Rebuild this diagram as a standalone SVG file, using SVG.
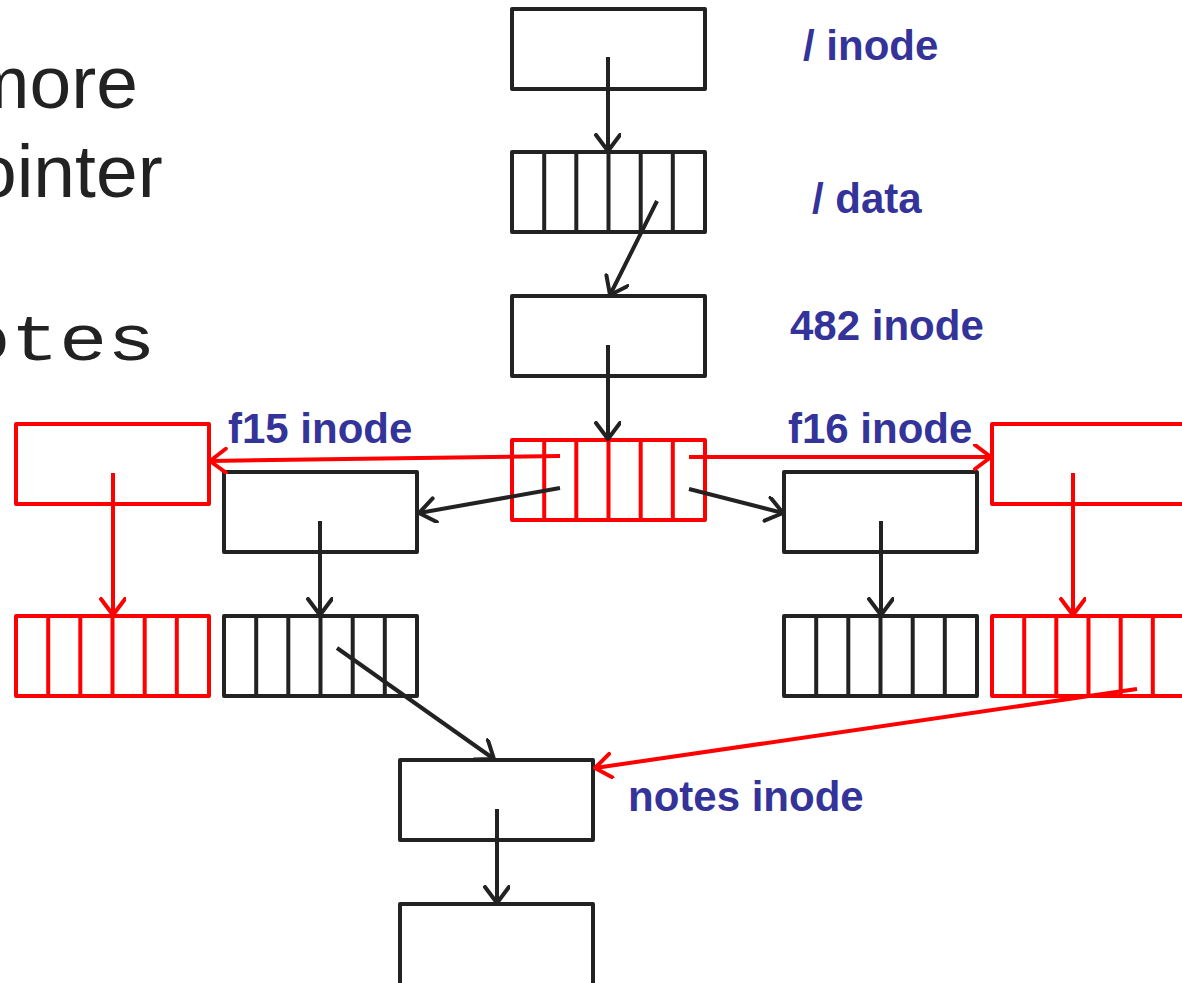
<svg xmlns="http://www.w3.org/2000/svg" width="1182" height="983" viewBox="0 0 1182 983">
  <style>
    .box { fill: #fff; stroke: #222; stroke-width: 4; stroke-linejoin: round; }
    .rbox { fill: #fff; stroke: #ff0000; stroke-width: 4; stroke-linejoin: round; }
    .div { stroke: #222; stroke-width: 4; }
    .rdiv { stroke: #ff0000; stroke-width: 4; }
    .edge { fill: none; stroke: #222; stroke-width: 4; marker-end: url(#arrowK); }
    .redge { fill: none; stroke: #ff0000; stroke-width: 4; marker-end: url(#arrowR); }
    .lbl { font-family: "Liberation Sans", Arial, sans-serif; font-weight: bold; font-size: 42px; fill: #333399; }
    .big { font-family: "Liberation Sans", Arial, sans-serif; font-size: 75px; fill: #222; }
    .mono { font-family: "Liberation Mono", "Courier New", monospace; font-size: 64px; fill: #222; }
  </style>
  <defs>
    <marker id="arrowK" markerUnits="userSpaceOnUse" markerWidth="24" markerHeight="28" refX="18" refY="13" orient="auto">
      <path d="M2,1 L18,13 L2,25" fill="none" stroke="#222" stroke-width="4" stroke-linecap="round" stroke-linejoin="round"/>
    </marker>
    <marker id="arrowR" markerUnits="userSpaceOnUse" markerWidth="24" markerHeight="28" refX="18" refY="13" orient="auto">
      <path d="M2,1 L18,13 L2,25" fill="none" stroke="#ff0000" stroke-width="4" stroke-linecap="round" stroke-linejoin="round"/>
    </marker>
    <!-- six-slot directory data block -->
    <g id="slotsK">
      <rect class="box" x="0" y="0" width="193" height="80"/>
      <line class="div" x1="32.2" y1="0" x2="32.2" y2="80"/>
      <line class="div" x1="64.3" y1="0" x2="64.3" y2="80"/>
      <line class="div" x1="96.5" y1="0" x2="96.5" y2="80"/>
      <line class="div" x1="128.7" y1="0" x2="128.7" y2="80"/>
      <line class="div" x1="160.8" y1="0" x2="160.8" y2="80"/>
    </g>
    <g id="slotsR">
      <rect class="rbox" x="0" y="0" width="193" height="80"/>
      <line class="rdiv" x1="32.2" y1="0" x2="32.2" y2="80"/>
      <line class="rdiv" x1="64.3" y1="0" x2="64.3" y2="80"/>
      <line class="rdiv" x1="96.5" y1="0" x2="96.5" y2="80"/>
      <line class="rdiv" x1="128.7" y1="0" x2="128.7" y2="80"/>
      <line class="rdiv" x1="160.8" y1="0" x2="160.8" y2="80"/>
    </g>
  </defs>

  <rect width="1182" height="983" fill="#fff"/>

  <!-- slide body text, running off the left edge -->
  <text class="big" x="-33" y="108">more</text>
  <text class="big" x="-25" y="197">ointer</text>
  <text class="mono" transform="scale(1.26,1)" x="-30" y="360">otes</text>

  <!-- nodes -->
  <g id="root-inode"><rect class="box" x="512" y="9" width="193" height="80"/></g>
  <g id="root-data"><use href="#slotsK" x="512" y="152"/></g>
  <g id="inode-482"><rect class="box" x="512" y="296" width="193" height="80"/></g>
  <g id="data-482"><use href="#slotsR" x="512" y="440"/></g>

  <g id="f15-inode-red"><rect class="rbox" x="16" y="424" width="193" height="80"/></g>
  <g id="f15-data-red"><use href="#slotsR" x="16" y="616"/></g>
  <g id="f15-inode"><rect class="box" x="224" y="472" width="193" height="80"/></g>
  <g id="f15-data"><use href="#slotsK" x="224" y="616"/></g>

  <g id="f16-inode"><rect class="box" x="784" y="472" width="193" height="80"/></g>
  <g id="f16-data"><use href="#slotsK" x="784" y="616"/></g>
  <g id="f16-inode-red"><rect class="rbox" x="992" y="424" width="193" height="80"/></g>
  <g id="f16-data-red"><use href="#slotsR" x="992" y="616"/></g>

  <g id="notes-inode"><rect class="box" x="400" y="760" width="193" height="80"/></g>
  <g id="notes-data"><rect class="box" x="400" y="904" width="193" height="100"/></g>

  <!-- labels -->
  <g id="labels">
    <text class="lbl" x="803" y="60">/ inode</text>
    <text class="lbl" x="812" y="213">/ data</text>
    <text class="lbl" x="790" y="340">482 inode</text>
    <text class="lbl" x="228" y="443">f15 inode</text>
    <text class="lbl" x="788" y="443">f16 inode</text>
    <text class="lbl" x="628" y="811">notes inode</text>
  </g>

  <!-- connectors -->
  <g id="connectors">
    <line class="edge" x1="608" y1="57" x2="608" y2="151"/>
    <line class="edge" x1="657" y1="201" x2="610" y2="295"/>
    <line class="edge" x1="608" y1="345" x2="608" y2="439"/>
    <line class="redge" x1="560" y1="456" x2="210" y2="461"/>
    <line class="redge" x1="689" y1="457" x2="991" y2="457"/>
    <line class="edge" x1="560" y1="488" x2="419" y2="513"/>
    <line class="edge" x1="689" y1="489" x2="783" y2="513"/>
    <line class="redge" x1="113" y1="473" x2="113" y2="615"/>
    <line class="edge" x1="320" y1="521" x2="320" y2="615"/>
    <line class="edge" x1="881" y1="521" x2="881" y2="615"/>
    <line class="redge" x1="1073" y1="473" x2="1073" y2="615"/>
    <line class="edge" x1="337" y1="648" x2="494" y2="759"/>
    <line class="redge" x1="1137" y1="689" x2="595" y2="768"/>
    <line class="edge" x1="497" y1="809" x2="497" y2="903"/>
  </g>
</svg>
